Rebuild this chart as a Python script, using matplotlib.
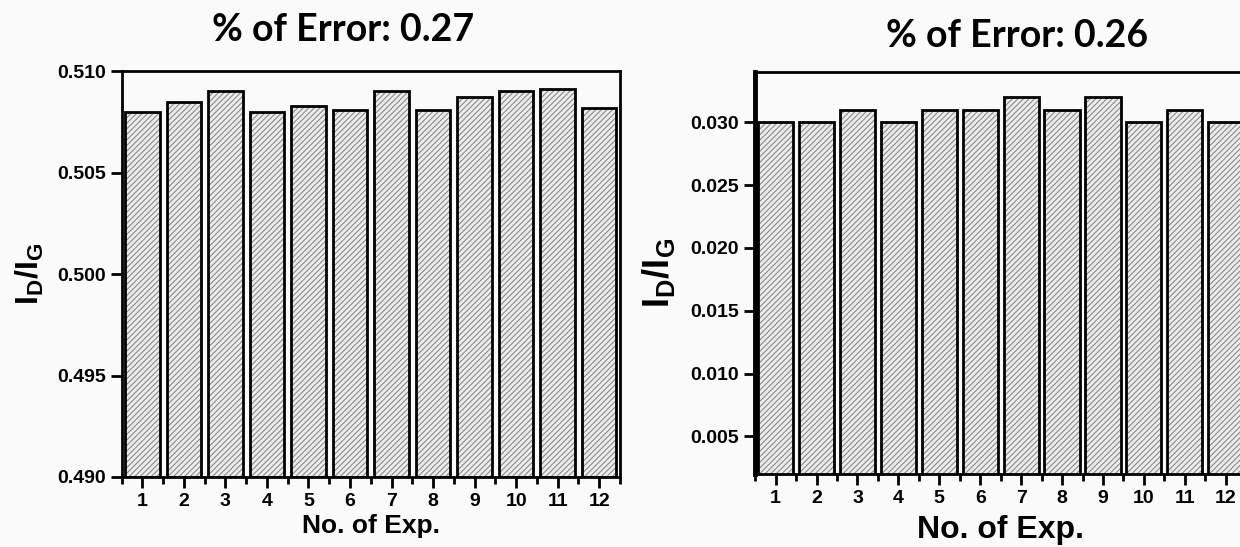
import numpy as np
import matplotlib.pyplot as plt
from matplotlib.ticker import MultipleLocator

plt.rcParams['font.family'] = ['Liberation Sans', 'DejaVu Sans']
plt.rcParams['font.weight'] = 'bold'
plt.rcParams['mathtext.fontset'] = 'custom'
plt.rcParams['mathtext.rm'] = 'Liberation Sans:bold'
plt.rcParams['mathtext.it'] = 'Liberation Sans:bold'
plt.rcParams['mathtext.bf'] = 'Liberation Sans:bold'
plt.rcParams['hatch.linewidth'] = 0.8

exp_no = np.arange(1, 13)
ratio_left = [0.5080, 0.5085, 0.5090, 0.5080, 0.5083, 0.5081,
              0.5090, 0.5081, 0.5087, 0.5090, 0.5091, 0.5082]
ratio_right = [0.030, 0.030, 0.031, 0.030, 0.031, 0.031,
               0.032, 0.031, 0.032, 0.030, 0.031, 0.030]
titles = ['% of Error: 0.27', '% of Error: 0.26']

bg = '#fafafa'
fig = plt.figure(figsize=(12.4, 5.47), dpi=100, facecolor=bg)
ax1 = fig.add_axes([0.098, 0.128, 0.402, 0.742])
ax2 = fig.add_axes([0.609, 0.1335, 0.396, 0.7345])


def draw_bars(ax, vals, base, width):
    heights = np.array(vals) - base
    # hatched fill, then black outline on top
    ax.bar(exp_no, heights, width=width, bottom=base, color='#ececec',
           edgecolor='#8a8a8a', hatch='//////', linewidth=0, zorder=2)
    ax.bar(exp_no, heights, width=width, bottom=base, fill=False,
           edgecolor='black', linewidth=2, zorder=3)


draw_bars(ax1, ratio_left, 0.490, 0.83)
draw_bars(ax2, ratio_right, 0.0, 0.86)

ax1.set_ylim(0.490, 0.510)
ax1.yaxis.set_major_locator(MultipleLocator(0.005))
ax2.set_ylim(0.002, 0.034)
ax2.set_yticks([0.005, 0.010, 0.015, 0.020, 0.025, 0.030])

for ax in (ax1, ax2):
    ax.set_facecolor(bg)
    ax.set_xlim(0.5, 12.5)
    ax.set_xticks(exp_no)
    ax.xaxis.set_minor_locator(MultipleLocator(1, offset=0.5))
    ax.yaxis.set_major_formatter(plt.FormatStrFormatter('%.3f'))
    for s in ax.spines.values():
        s.set_linewidth(2)
    ax.tick_params(axis='both', which='major', direction='out', length=8,
                   width=2, labelsize=14)
    ax.tick_params(axis='x', which='minor', direction='out', length=5, width=2)
    ax.tick_params(axis='y', which='minor', left=False)
    for lab in ax.get_xticklabels() + ax.get_yticklabels():
        lab.set_fontweight('bold')

ax2.spines['left'].set_linewidth(3.5)

ax1.set_xlabel('No. of Exp.', fontsize=19, fontweight='bold', labelpad=3)
ax2.set_xlabel('No. of Exp.', fontsize=23, fontweight='bold', labelpad=6)
ax1.set_ylabel(r'$\mathbf{I_D/I_G}$', fontsize=23, labelpad=8)
ax2.set_ylabel(r'$\mathbf{I_D/I_G}$', fontsize=26, labelpad=10)

fig.text(0.277, 0.945, titles[0], ha='center', va='center', fontsize=27,
         fontweight='bold', family=['Lato', 'DejaVu Sans'])
fig.text(0.82, 0.935, titles[1], ha='center', va='center', fontsize=27,
         fontweight='bold', family=['Lato', 'DejaVu Sans'])

fig.savefig('out.png', dpi=100, facecolor=bg)
